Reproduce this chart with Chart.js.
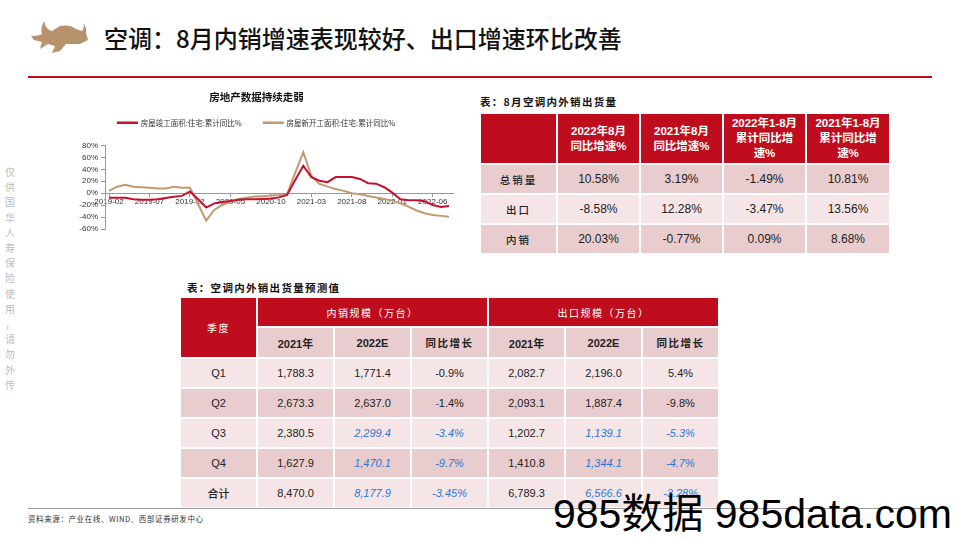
<!DOCTYPE html>
<html>
<head>
<meta charset="utf-8">
<script src="https://cdn.jsdelivr.net/npm/chart.js@4.4.0/dist/chart.umd.min.js"></script>
<style>
  body { margin: 0; background: #fff; }
  #page { position: relative; width: 960px; height: 540px; overflow: hidden; font-family: "Liberation Sans", "Noto Sans CJK SC", sans-serif; color: #222; }
  .abs { position: absolute; }
  #title { left: 104px; top: 23px; font-family: "Noto Sans CJK SC"; font-size: 24px; line-height: 30px; font-weight: 500; color: #111; white-space: nowrap; }
  #redline { left: 28px; top: 76px; width: 904px; height: 2px; background: #c00d1e; }
  #side { left: 3px; top: 164px; width: 14px; font-family: "Noto Sans CJK SC"; font-size: 10px; line-height: 15.2px; color: #bdbdbd; text-align: center; }
  .cap { font-family: "Noto Sans CJK SC"; font-size: 10.5px; font-weight: 700; letter-spacing: 1.3px; color: #111; white-space: nowrap; }
  table { border-collapse: collapse; table-layout: fixed; }
  td { border: 2px solid #fff; text-align: center; padding: 0; }
  .hd { background: #c00d1e; color: #fff; font-weight: 700; }
  .dk { background: #e9cccd; }
  .lt { background: #f5e5e6; }
  .cn { font-family: "Noto Sans CJK SC"; }
  .blue { color: #2a78d2; font-style: italic; }
  #t1 td { font-size: 12px; }
  #t1 .hd { font-size: 11.5px; line-height: 15px; }
  #t1 .rl { font-family: "Noto Sans CJK SC"; font-size: 10.5px; font-weight: 500; letter-spacing: 2px; }
  #t2 td { font-size: 11px; }
  #t2 .hd { font-family: "Noto Sans CJK SC"; font-size: 10px; font-weight: 400; letter-spacing: 1.5px; }
  #t2 .h2 { font-weight: 700; font-size: 11px; }
  #t2 .h2.cn { font-size: 10.5px; letter-spacing: 1.5px; }
  #foot { left: 28px; top: 508px; width: 904px; height: 1px; background: #9a9a9a; }
  #src { left: 28px; top: 513px; font-family: "Noto Sans CJK SC"; font-size: 7.5px; letter-spacing: 0.6px; color: #333; white-space: nowrap; }
  #wm { left: 553px; top: 494px; font-size: 41px; line-height: 41px; color: #000; white-space: nowrap; }
  #chartBox { left: 60px; top: 80px; width: 420px; height: 165px; }
</style>
</head>
<body>
<div id="page">
  <svg class="abs" style="left:0;top:0" width="110" height="70">
    <path d="M44 21 Q46 30 52 31 L60 26 Q70 24 76 29 L82 31 Q85 27 83 23 Q87 27 86 33 L88 40 L80 44 L66 44 L60 51 L52 53 L55 46 L48 44 L40 49 L42 42 L34 40 L31 36 Q38 36 42 34 Q40 29 44 21 Z" fill="#b8926c"/>
  </svg>
  <div id="title" class="abs">空调：8月内销增速表现较好、出口增速环比改善</div>
  <div id="redline" class="abs"></div>
  <div id="side" class="abs">仅<br>供<br>国<br>华<br>人<br>寿<br>保<br>险<br>使<br>用<br>，<br>请<br>勿<br>外<br>传</div>

  <div id="chartBox" class="abs"><canvas id="chart" width="420" height="165"></canvas></div>

  <div class="abs cap" style="left:480px; top:94px;">表：8月空调内外销出货量</div>
  <table id="t1" class="abs" style="left:479px; top:112px; width:410px;">
    <colgroup><col style="width:77px"><col style="width:83px"><col style="width:83px"><col style="width:83px"><col style="width:84px"></colgroup>
    <tr style="height:51px"><td class="hd"></td><td class="hd">2022年8月<br>同比增速%</td><td class="hd">2021年8月<br>同比增速%</td><td class="hd">2022年1-8月<br>累计同比增<br>速%</td><td class="hd">2021年1-8月<br>累计同比增<br>速%</td></tr>
    <tr style="height:30px" class="dk"><td class="rl">总销量</td><td>10.58%</td><td>3.19%</td><td>-1.49%</td><td>10.81%</td></tr>
    <tr style="height:30px" class="lt"><td class="rl">出口</td><td>-8.58%</td><td>12.28%</td><td>-3.47%</td><td>13.56%</td></tr>
    <tr style="height:30px" class="dk"><td class="rl">内销</td><td>20.03%</td><td>-0.77%</td><td>0.09%</td><td>8.68%</td></tr>
  </table>

  <div class="abs cap" style="left:187px; top:280px;">表：空调内外销出货量预测值</div>
  <table id="t2" class="abs" style="left:179px; top:296px; width:539px;">
    <colgroup><col style="width:77px"><col style="width:77px"><col style="width:77px"><col style="width:77px"><col style="width:77px"><col style="width:77px"><col style="width:77px"></colgroup>
    <tr style="height:30px"><td class="hd" rowspan="2">季度</td><td class="hd" colspan="3">内销规模（万台）</td><td class="hd" colspan="3">出口规模（万台）</td></tr>
    <tr style="height:31px" class="dk"><td class="h2">2021年</td><td class="h2">2022E</td><td class="h2 cn">同比增长</td><td class="h2">2021年</td><td class="h2">2022E</td><td class="h2 cn">同比增长</td></tr>
    <tr style="height:30px" class="lt"><td>Q1</td><td>1,788.3</td><td>1,771.4</td><td>-0.9%</td><td>2,082.7</td><td>2,196.0</td><td>5.4%</td></tr>
    <tr style="height:30px" class="dk"><td>Q2</td><td>2,673.3</td><td>2,637.0</td><td><span class="blue">-</span>1.4%</td><td>2,093.1</td><td>1,887.4</td><td>-9.8%</td></tr>
    <tr style="height:30px" class="lt"><td>Q3</td><td>2,380.5</td><td class="blue">2,299.4</td><td class="blue">-3.4%</td><td>1,202.7</td><td class="blue">1,139.1</td><td class="blue">-5.3%</td></tr>
    <tr style="height:30px" class="dk"><td>Q4</td><td>1,627.9</td><td class="blue">1,470.1</td><td class="blue">-9.7%</td><td>1,410.8</td><td class="blue">1,344.1</td><td class="blue">-4.7%</td></tr>
    <tr style="height:30px" class="lt"><td class="cn" style="font-weight:500">合计</td><td>8,470.0</td><td class="blue">8,177.9</td><td class="blue">-3.45%</td><td>6,789.3</td><td class="blue">6,566.6</td><td class="blue">-3.28%</td></tr>
  </table>

  <div id="foot" class="abs"></div>
  <div id="src" class="abs">资料来源：产业在线、WIND、西部证券研发中心</div>
  <div id="wm" class="abs">985数据 985data.com</div>
</div>

<script>
// months, 2019-02 .. 2022-08
const months = [
  '2019-02','2019-03','2019-04','2019-05','2019-06','2019-07','2019-08','2019-09','2019-10','2019-11','2019-12',
  '2020-01','2020-02','2020-03','2020-04','2020-05','2020-06','2020-07','2020-08','2020-09','2020-10','2020-11','2020-12',
  '2021-01','2021-02','2021-03','2021-04','2021-05','2021-06','2021-07','2021-08','2021-09','2021-10','2021-11','2021-12',
  '2022-01','2022-02','2022-03','2022-04','2022-05','2022-06','2022-07','2022-08'
];
// 房屋竣工面积:住宅:累计同比%
const completion = [
  -7.5, -7.5, -7.5, -10, -11, -11, -10, -8, -6, -4.5, 3,
  -10, -24, -17, -14.6, -13, -11, -10, -10, -9.5, -9, -7, -3,
  22, 46, 27, 21, 18.5, 27, 27, 27, 24, 16.8, 16, 10,
  1, -10, -11.8, -11.8, -13.5, -19.7, -23, -21.3
];
// 房屋新开工面积:住宅:累计同比%
const newStarts = [
  4, 11, 14, 11, 10, 9, 8, 8, 11, 9, 9,
  -18, -46, -28, -19.7, -14, -9.6, -7.4, -5.7, -5, -4, -3, -1.5,
  34, 69, 29, 15.6, 11, 7.2, 3.9, 0, -1.7, -4.5, -7.3, -9.6,
  -12.4, -17, -22.5, -29, -33.6, -36.5, -38, -39.3
];
const seriesNames = ['房屋竣工面积:住宅:累计同比%', '房屋新开工面积:住宅:累计同比%'];
const yTicks = { min: -60, max: 80, step: 20 };

Chart.defaults.font.family = '"Liberation Sans", "Noto Sans CJK SC", sans-serif';
Chart.defaults.color = '#333';

// extra room under the legend
const legendSpace = {
  id: 'legendSpace',
  beforeInit(chart) {
    const fit = chart.legend.fit;
    chart.legend.fit = function () {
      fit.bind(chart.legend)();
      this.height += 9;
    };
  }
};

new Chart(document.getElementById('chart').getContext('2d'), {
  type: 'line',
  data: {
    labels: months,
    datasets: [
      { label: seriesNames[0], data: completion, borderColor: '#c8102e', backgroundColor: '#c8102e', borderWidth: 2, pointRadius: 0, tension: 0 },
      { label: seriesNames[1], data: newStarts, borderColor: '#c09a72', backgroundColor: '#c09a72', borderWidth: 2, pointRadius: 0, tension: 0 }
    ]
  },
  options: {
    responsive: false,
    animation: false,
    layout: { padding: { left: 0, right: 27, bottom: 16 } },
    plugins: {
      title: {
        display: true,
        text: '房地产数据持续走弱',
        color: '#111',
        font: { family: 'Noto Sans CJK SC', size: 10.5, weight: 'bold' },
        padding: { top: 11, bottom: -6.6 }
      },
      legend: {
        labels: {
          boxWidth: 19, boxHeight: 0.5, padding: 22, color: '#333',
          font: { family: 'Noto Sans CJK SC', size: 7.5 }
        }
      },
      tooltip: { enabled: false }
    },
    scales: {
      x: {
        position: { y: 0 },
        offset: true,
        grid: { drawOnChartArea: false, tickLength: 3, offset: false,
          color: ctx => (ctx.index % 5 === 0 ? '#999' : 'rgba(0,0,0,0)') },
        border: { color: '#999' },
        ticks: {
          autoSkip: false, maxRotation: 0, padding: 1,
          font: { size: 8 }, color: '#333',
          callback: function (v, i) { return i % 5 === 0 ? months[i] : ''; }
        }
      },
      y: {
        min: yTicks.min, max: yTicks.max,
        afterFit: s => { s.width = 45; },
        grid: { drawOnChartArea: false, tickLength: 4, color: '#999' },
        border: { color: '#999' },
        ticks: { stepSize: yTicks.step, autoSkip: false, padding: 3, font: { size: 8 }, color: '#333', callback: v => v + '%' }
      }
    }
  },
  plugins: [legendSpace]
});
</script>
</body>
</html>
